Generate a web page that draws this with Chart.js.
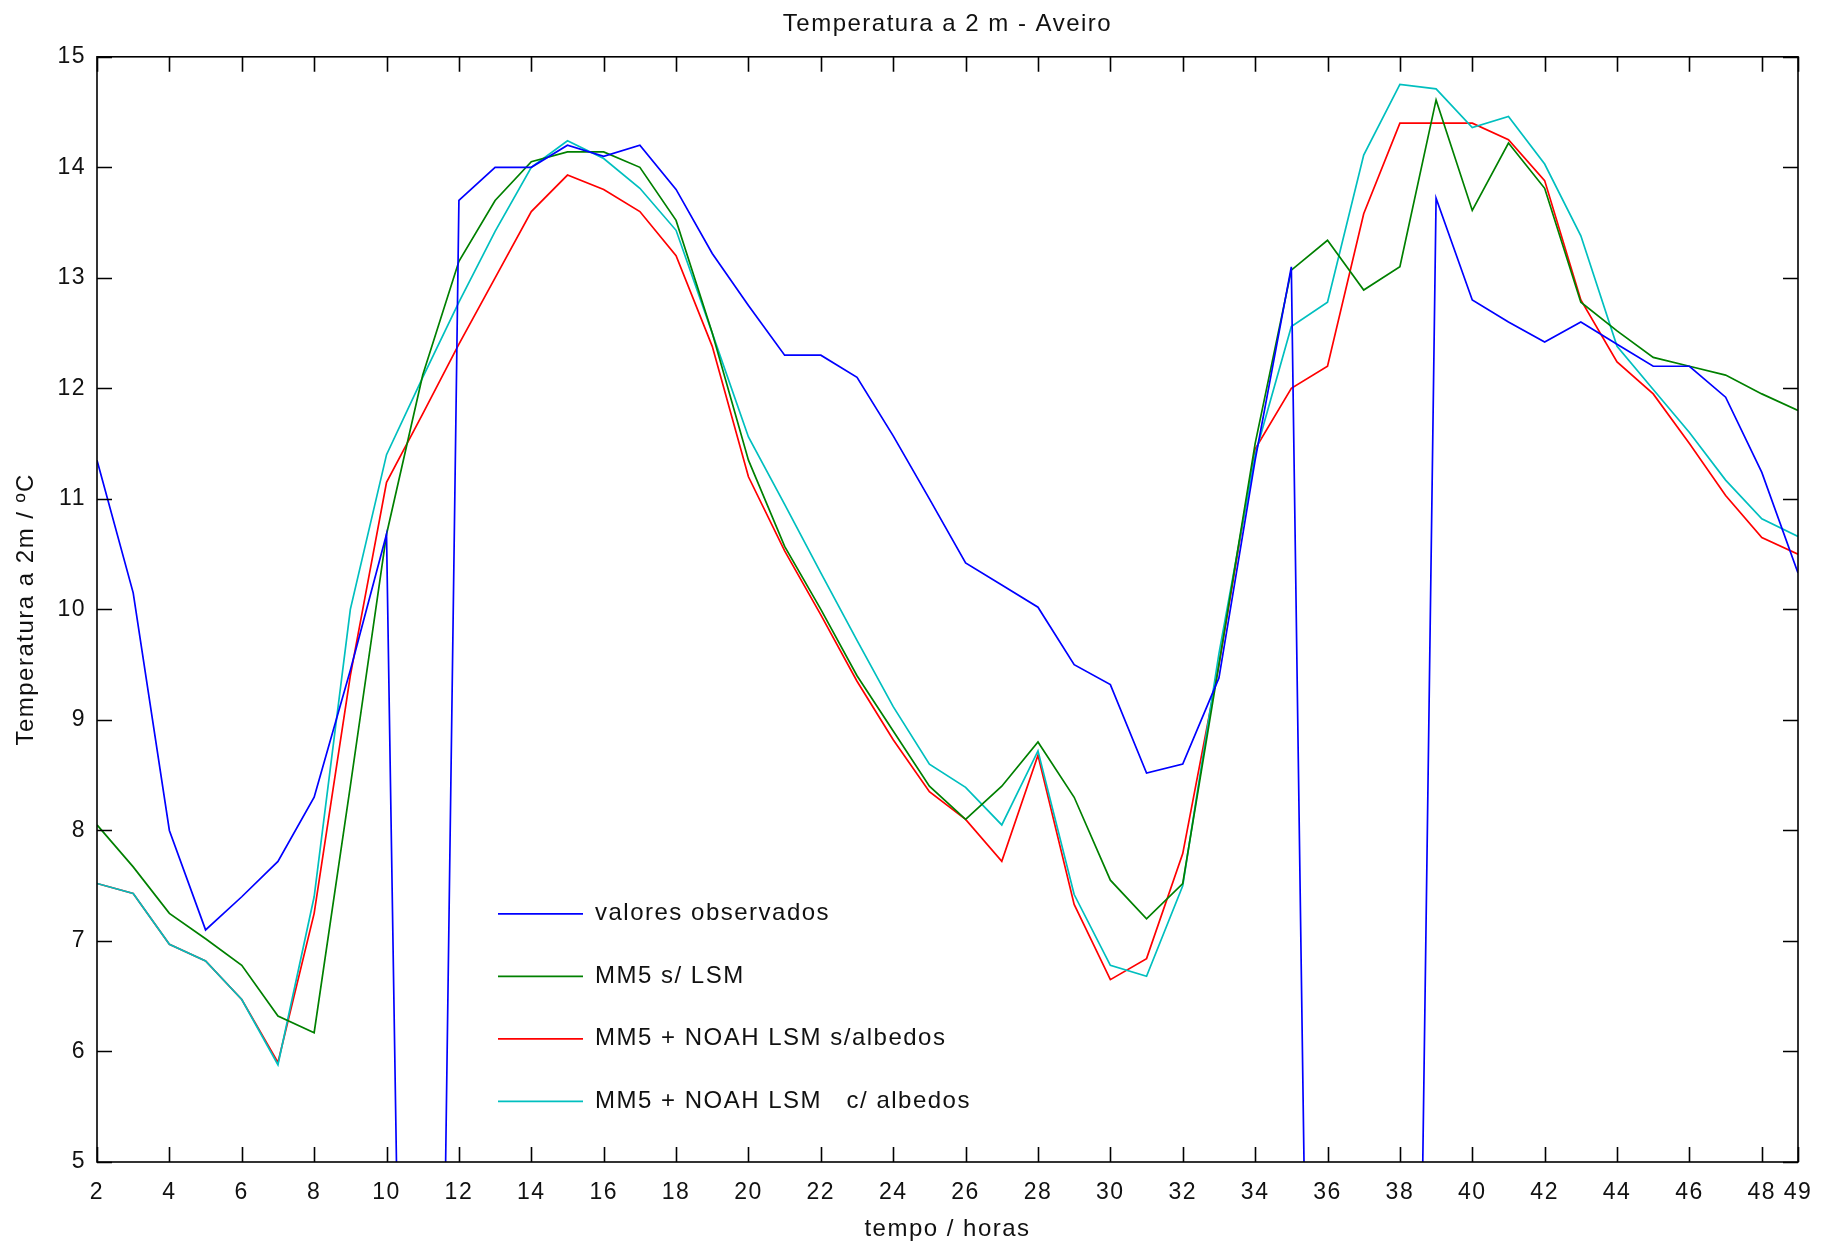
<!DOCTYPE html>
<html>
<head>
<meta charset="utf-8">
<title>Temperatura a 2 m - Aveiro</title>
<script src="https://cdn.jsdelivr.net/npm/chart.js@4.4.1/dist/chart.umd.min.js"></script>
<style>
  html, body { margin: 0; padding: 0; background: #fff; }
  #wrap { width: 1825px; height: 1245px; }
</style>
</head>
<body>
<div id="wrap"><canvas id="chart" width="1825" height="1245"></canvas></div>
<script>
// hours of simulation (x axis)
const hours = [2,3,4,5,6,7,8,9,10,11,12,13,14,15,16,17,18,19,20,21,22,23,24,25,
               26,27,28,29,30,31,32,33,34,35,36,37,38,39,40,41,42,43,44,45,46,47,48,49];

// observed values (missing records were stored as -10, they drop off the axis)
const observados = [11.35,10.15,8.0,7.1,7.4,7.72,8.3,9.45,10.68,-10,13.7,14.0,14.0,14.2,14.1,14.2,
                    13.8,13.22,12.75,12.3,12.3,12.1,11.57,11.0,10.42,10.22,10.02,9.5,9.32,8.52,8.6,9.38,
                    11.35,13.1,-10,-10,-10,13.72,12.8,12.6,12.42,12.6,12.4,12.2,12.2,11.92,11.24,10.33];

const mm5SemLsm = [8.05,7.67,7.25,7.02,6.78,6.32,6.17,8.4,10.68,12.12,13.15,13.7,14.05,14.14,14.14,14.0,
                   13.52,12.5,11.35,10.57,10.0,9.4,8.9,8.4,8.1,8.4,8.8,8.3,7.55,7.2,7.52,9.5,
                   11.5,13.07,13.34,12.89,13.1,14.61,13.61,14.22,13.81,12.78,12.52,12.28,12.2,12.12,11.95,11.8];

const noahSemAlb = [7.52,7.43,6.97,6.82,6.47,5.9,7.25,9.4,11.15,11.77,12.4,13.0,13.6,13.93,13.8,13.6,
                    13.2,12.38,11.2,10.53,9.95,9.35,8.82,8.35,8.1,7.72,8.68,7.33,6.65,6.84,7.79,9.5,
                    11.45,12.0,12.2,13.58,14.4,14.4,14.4,14.25,13.88,12.8,12.24,11.95,11.5,11.03,10.65,10.5];

const noahComAlb = [7.52,7.43,6.97,6.82,6.47,5.88,7.4,10.0,11.4,12.1,12.78,13.42,14.0,14.24,14.08,13.81,
                    13.43,12.5,11.56,10.95,10.33,9.72,9.12,8.6,8.39,8.05,8.72,7.42,6.78,6.68,7.5,9.6,
                    11.4,12.56,12.78,14.11,14.75,14.71,14.36,14.46,14.03,13.38,12.38,11.99,11.6,11.17,10.82,10.66];

const xTicks = [2,4,6,8,10,12,14,16,18,20,22,24,26,28,30,32,34,36,38,40,42,44,46,48,49];
const yTicks = [5,6,7,8,9,10,11,12,13,14,15];

const FONT = '"Liberation Sans", Arial, sans-serif';
const SPACING = '1.5px';   // the old X11 font of the original is spaced out a bit

function pts(vals){
    return hours.map((h,i)=>({x:h, y:vals[i]}));
}

// letter spacing for every text the chart measures and draws
const spacing = {
    id: 'spacing',
    beforeLayout(chart){ chart.ctx.letterSpacing = SPACING; },
    beforeDraw(chart){ chart.ctx.letterSpacing = SPACING; }
};

// matlab style box with inward ticks on all four sides
const boxTicks = {
    id: 'boxTicks',
    afterDatasetsDraw(chart){
        const {ctx, chartArea:a, scales:{x, y}} = chart;
        const len = 15;
        ctx.save();
        ctx.strokeStyle = '#000';
        ctx.lineWidth = 1.6;
        ctx.strokeRect(a.left, a.top, a.right - a.left, a.bottom - a.top);
        ctx.beginPath();
        x.ticks.forEach(t=>{
            const px = Math.round(x.getPixelForValue(t.value)) + 0.5;
            ctx.moveTo(px, a.bottom); ctx.lineTo(px, a.bottom - len);
            ctx.moveTo(px, a.top); ctx.lineTo(px, a.top + len);
        });
        y.ticks.forEach(t=>{
            const py = Math.round(y.getPixelForValue(t.value)) + 0.5;
            ctx.moveTo(a.left, py); ctx.lineTo(a.left + len, py);
            ctx.moveTo(a.right, py); ctx.lineTo(a.right - len, py);
        });
        ctx.stroke();
        ctx.restore();
    }
};

// legend drawn inside the axes, like the original figure
const innerLegend = {
    id: 'innerLegend',
    afterDraw(chart){
        const {ctx, chartArea:a} = chart;
        const x0 = a.left + 401, y0 = a.top + 857, gap = 62.5, lineLen = 85;
        ctx.save();
        ctx.font = '24px ' + FONT;
        ctx.letterSpacing = SPACING;
        ctx.textBaseline = 'middle';
        ctx.textAlign = 'left';
        chart.data.datasets.forEach((ds, i)=>{
            const yy = y0 + i * gap;
            ctx.strokeStyle = ds.borderColor;
            ctx.lineWidth = 1.8;
            ctx.beginPath();
            ctx.moveTo(x0, yy); ctx.lineTo(x0 + lineLen, yy);
            ctx.stroke();
            ctx.fillStyle = '#111';
            ctx.fillText(ds.label, x0 + lineLen + 12, yy);
        });
        ctx.restore();
    }
};

new Chart(document.getElementById('chart').getContext('2d'), {
    type: 'line',
    data: {
        datasets: [
            { label: 'valores observados', data: pts(observados), borderColor: '#0000ff', order: 1 },
            { label: 'MM5 s/ LSM', data: pts(mm5SemLsm), borderColor: '#008000', order: 2 },
            { label: 'MM5 + NOAH LSM s/albedos', data: pts(noahSemAlb), borderColor: '#ff0000', order: 4 },
            { label: 'MM5 + NOAH LSM   c/ albedos', data: pts(noahComAlb), borderColor: '#00bfbf', order: 3 }
        ]
    },
    options: {
        responsive: false,
        animation: false,
        elements: {
            line: { borderWidth: 1.7, tension: 0, fill: false },
            point: { radius: 0, hoverRadius: 0 }
        },
        layout: { padding: { right: 27 } },
        plugins: {
            legend: { display: false },
            tooltip: { enabled: false },
            title: {
                display: true,
                text: 'Temperatura a 2 m - Aveiro',
                fullSize: false,
                color: '#111',
                font: { family: FONT, size: 24, weight: 'normal' },
                padding: { top: 10, bottom: 18 }
            }
        },
        scales: {
            x: {
                type: 'linear',
                min: 2,
                max: 49,
                afterBuildTicks(s){ s.ticks = xTicks.map(v=>({value:v})); },
                afterFit(s){ s.height = 83; },
                grid: { display: false },
                border: { display: false },
                ticks: { color: '#111', font: { family: FONT, size: 23 }, padding: 9, maxRotation: 0, autoSkip: false },
                title: { display: true, text: 'tempo / horas', color: '#111', font: { family: FONT, size: 24 }, padding: { top: 0, bottom: 1 } }
            },
            y: {
                min: 5,
                max: 15,
                afterBuildTicks(s){ s.ticks = yTicks.map(v=>({value:v})); },
                afterFit(s){ s.width = 97; },
                grid: { display: false },
                border: { display: false },
                ticks: { color: '#111', font: { family: FONT, size: 23 }, padding: 3 },
                title: { display: true, text: 'Temperatura a 2m / ºC', color: '#111', font: { family: FONT, size: 24 }, padding: { top: 12, bottom: 0 } }
            }
        }
    },
    plugins: [spacing, boxTicks, innerLegend]
});
</script>
</body>
</html>
